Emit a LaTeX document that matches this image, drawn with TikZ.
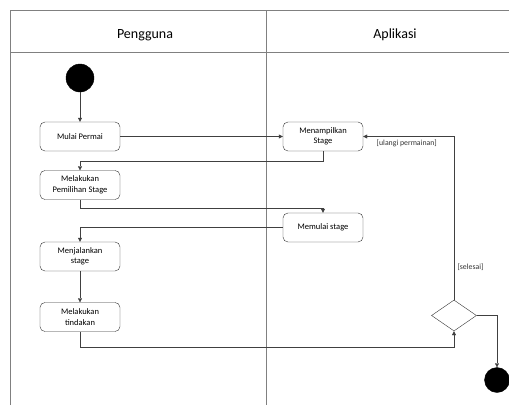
\documentclass[tikz,border=0pt]{standalone}
\usepackage{fontspec}
\setmainfont{Carlito}
\usetikzlibrary{arrows.meta,shapes.geometric,positioning}

\begin{document}
\begin{tikzpicture}[x=1pt,y=-1pt,
  activity/.style={draw=black!80,rounded corners=5pt,minimum width=80pt,minimum height=29pt,align=center,font=\fontsize{8.5}{10.5}\selectfont,inner sep=1pt},
  flow/.style={draw=black!75,-{Triangle[length=4pt,width=4pt]}},
  guard/.style={font=\fontsize{7.8}{9}\selectfont,text=black!80},
  lane/.style={draw=black!50,line width=0.6pt}]
\useasboundingbox (0,0) rectangle (509,405);
% swimlanes
\draw[lane] (10,405) -- (10,10) -- (515,10);
\draw[lane] (10,52) -- (515,52);
\draw[lane] (266,10) -- (266,405);
\node (hpengguna) at (145,35) {\fontsize{14}{16}\selectfont Pengguna};
\node (haplikasi) at (395,35) {\fontsize{14}{16}\selectfont Aplikasi};
% nodes
\node[draw,shape=circle,fill=black,minimum size=28pt,inner sep=0] (start) at (80,78) {};
\node[activity] (mulai) at (80,136.5) {Mulai Permai};
\node[activity] (tampil) at (323,136.5) {Menampilkan\\Stage};
\node[activity] (pilih) at (80,185) {Melakukan\\Pemilihan Stage};
\node[activity] (memulai) at (323,227.5) {Memulai stage};
\node[activity] (jalan) at (80,256.5) {Menjalankan\\stage};
\node[activity] (tindakan) at (80,317) {Melakukan\\tindakan};
\node[draw=black!80,shape=diamond,minimum width=45pt,minimum height=31pt,inner sep=0] (cek) at (454,315.5) {};
\node[draw,shape=circle,fill=black,minimum size=25pt,inner sep=0] (akhir) at (497,380) {};
% flows
\draw[flow] (start) -- (mulai);
\draw[flow] (mulai) -- (tampil);
\draw[flow] (tampil.south) -- ++(0,10) -| (pilih.north);
\draw[flow] (pilih.south) -- ++(0,8) -| (memulai.north);
\draw[flow] (memulai.west) -| (jalan.north);
\draw[flow] (jalan) -- (tindakan);
\draw[flow] (tindakan.south) -- ++(0,15) -| (cek.south);
\draw[flow] (cek.north) |- (tampil.east) node[guard,pos=0.1,right] {[selesai]} node[guard,pos=0.76,below] {[ulangi permainan]};
\draw[flow] (cek.east) -| (akhir.north);
\end{tikzpicture}
\end{document}
